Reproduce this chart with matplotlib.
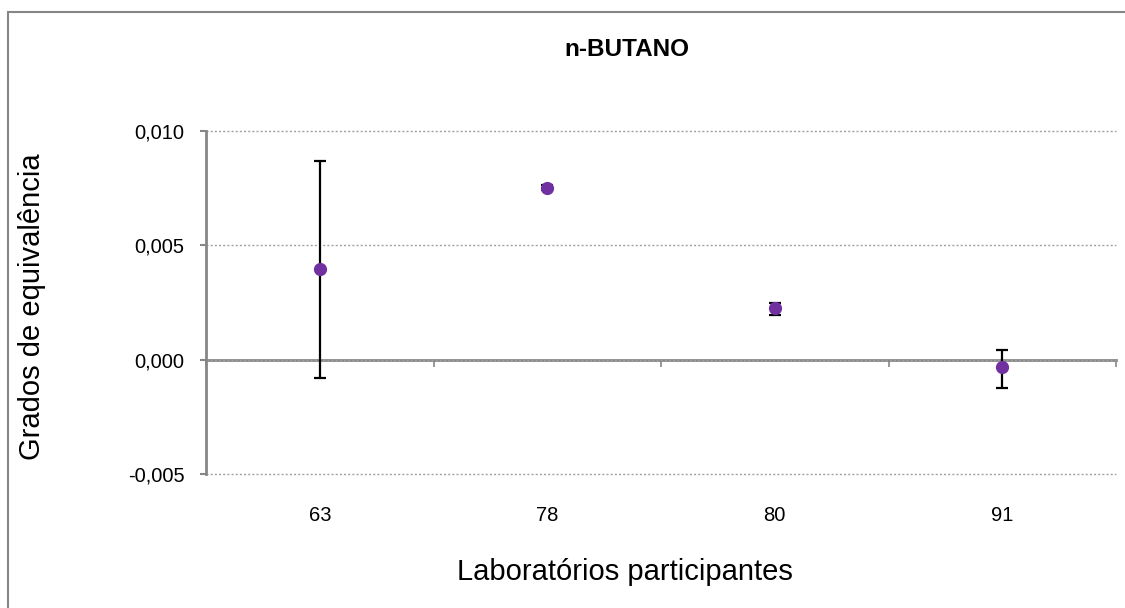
import matplotlib
matplotlib.use("Agg")
import matplotlib.pyplot as plt
from matplotlib.patches import Rectangle
from matplotlib.ticker import FuncFormatter

plt.rcParams['font.family'] = ['Liberation Sans', 'DejaVu Sans']

labs = ["63", "78", "80", "91"]
values = [0.00395, 0.00752, 0.00224, -0.00034]
err_low = [0.00474, 0.00010, 0.00027, 0.00092]
err_high = [0.00473, 0.00010, 0.00022, 0.00075]
yticks = [-0.005, 0.0, 0.005, 0.010]

W, H = 1125, 608
fig = plt.figure(figsize=(W / 100, H / 100), dpi=100)
ax = fig.add_axes([206 / W, 1 - 474 / H, (1116 - 206) / W, (474 - 131) / H])

xpos = list(range(len(labs)))
ax.errorbar(xpos, values, yerr=[err_low, err_high], fmt='none', ecolor='black',
            elinewidth=1.6, capsize=4.5, capthick=1.6, zorder=3)
ax.plot(xpos, values, 'o', color='#7030A0', markersize=8.5, zorder=4, linestyle='none')

ax.set_xlim(-0.5, len(labs) - 0.5)
ax.set_ylim(-0.005, 0.010)
ax.set_yticks(yticks)
ax.yaxis.set_major_formatter(FuncFormatter(lambda v, p: f"{v:.3f}".replace('.', ',')))
ax.tick_params(axis='y', direction='out', length=4.5, width=1.5, color='#868686',
               labelsize=14.5, pad=11)
ax.grid(axis='y', linestyle=(0, (1.5, 1.5)), color='#A0A0A0', linewidth=1)
for gl in ax.get_ygridlines():
    gl.set_clip_on(False)
ax.set_axisbelow(True)

# category labels at bottom, no ticks
ax.set_xticks(xpos)
ax.set_xticklabels(labs)
ax.tick_params(axis='x', length=0, labelsize=14.5, pad=23)
for s in ['top', 'right', 'bottom']:
    ax.spines[s].set_visible(False)
ax.spines['left'].set_color('#868686')
ax.spines['left'].set_linewidth(2)

# horizontal axis crossing at zero
frac0 = (0 - (-0.005)) / 0.015
sec = ax.secondary_xaxis(frac0)
sec.set_xticks([i - 0.5 for i in range(len(labs) + 1)])
sec.set_xticklabels([])
sec.tick_params(axis='x', direction='out', length=5, width=1.2, color='#868686')
sec.spines['bottom'].set_color('#868686')
sec.spines['bottom'].set_linewidth(2)

fig.text(32 / W, 1 - 307 / H, "Grados de equivalência", fontsize=21,
         rotation=90, ha='center', va='center')
fig.text(625 / W, 1 - 572 / H, "Laboratórios participantes", fontsize=21,
         ha='center', va='center')
fig.text(627 / W, 1 - 50 / H, "n-BUTANO", fontsize=17.5, fontweight='bold',
         ha='center', va='center')

fig.patches.append(Rectangle((8 / W, -0.01), 1.1, 1 - 12 / H + 0.01,
                             transform=fig.transFigure, fill=False,
                             edgecolor='#868686', linewidth=1.5))

fig.savefig("out.png", dpi=100)
